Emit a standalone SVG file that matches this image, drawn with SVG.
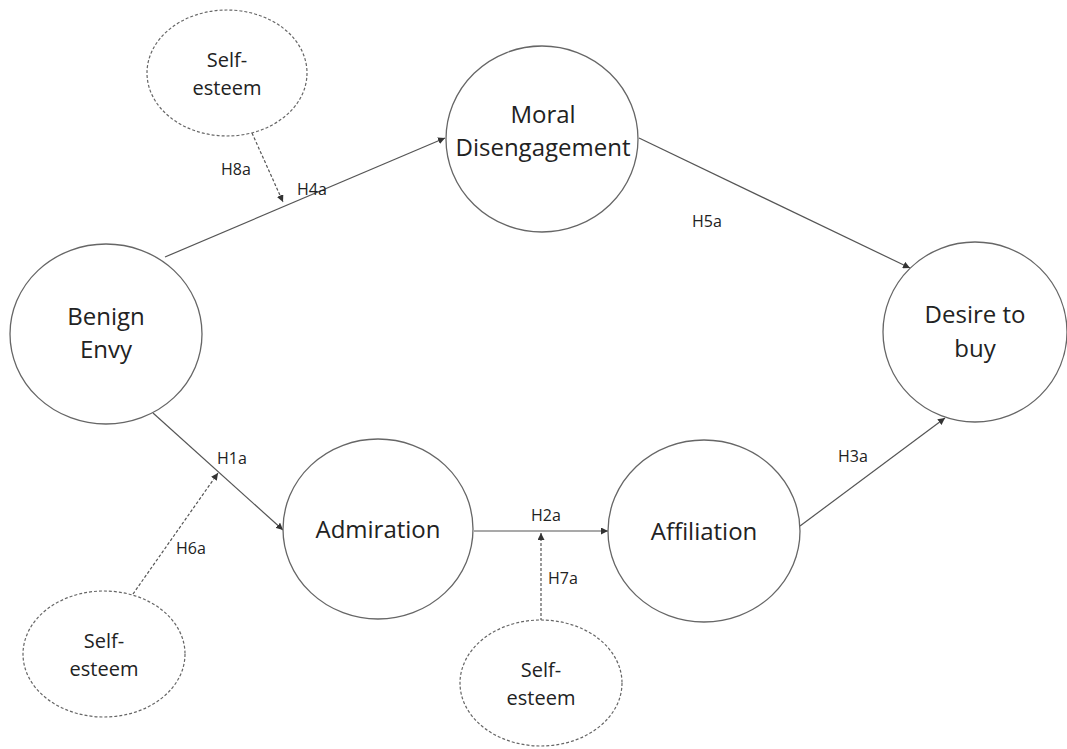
<svg xmlns="http://www.w3.org/2000/svg" width="1067" height="749" viewBox="0 0 1067 749">
<style>
.node{fill:#fff;stroke:#666;stroke-width:1.3}
.mod{fill:#fff;stroke:#666;stroke-width:1.2;stroke-dasharray:3,2}
.t{font-family:"Open Sans","Liberation Sans",sans-serif;fill:#222;text-anchor:middle}
.big{font-size:24px}
.sm{font-size:20px}
.lab{font-family:"Open Sans","Liberation Sans",sans-serif;font-size:16px;fill:#222}
.c{stroke:#555;stroke-width:1.2;fill:none}
.d{stroke:#555;stroke-width:1.2;fill:none;stroke-dasharray:3,2}
</style>
<defs>
<marker id="ah" viewBox="0 0 10 10" refX="10" refY="5" markerWidth="7" markerHeight="7" markerUnits="userSpaceOnUse" orient="auto">
<path d="M0,0 L10,5 L0,10 z" fill="#333"/>
</marker>
</defs>
<rect width="1067" height="749" fill="#fff"/>
<g id="connectors">
<line class="c" x1="165" y1="257" x2="445" y2="138" marker-end="url(#ah)"/>
<line class="d" x1="252" y1="133" x2="283" y2="202" marker-end="url(#ah)"/>
<line class="c" x1="639" y1="138" x2="910" y2="268" marker-end="url(#ah)"/>
<line class="c" x1="800" y1="526" x2="945" y2="418" marker-end="url(#ah)"/>
<line class="c" x1="153" y1="413" x2="283" y2="530" marker-end="url(#ah)"/>
<line class="d" x1="133" y1="594" x2="218" y2="473" marker-end="url(#ah)"/>
<line class="c" x1="474" y1="531" x2="608" y2="531" marker-end="url(#ah)"/>
<line class="d" x1="541" y1="621" x2="541" y2="533" marker-end="url(#ah)"/>
<text class="lab" x="221" y="175">H8a</text>
<text class="lab" x="297" y="195">H4a</text>
<text class="lab" x="692" y="227">H5a</text>
<text class="lab" x="838" y="462">H3a</text>
<text class="lab" x="217" y="464">H1a</text>
<text class="lab" x="176" y="554">H6a</text>
<text class="lab" x="531" y="521">H2a</text>
<text class="lab" x="548" y="584">H7a</text>
</g>
<g id="moral">
<ellipse class="node" cx="542" cy="139" rx="96" ry="93"/>
<text class="t big" x="543" y="123">Moral</text>
<text class="t big" x="543" y="156">Disengagement</text>
</g>
<g id="benign">
<ellipse class="node" cx="106" cy="334" rx="96" ry="90"/>
<text class="t big" x="106" y="325">Benign</text>
<text class="t big" x="106" y="358">Envy</text>
</g>
<g id="admiration">
<ellipse class="node" cx="378" cy="529" rx="95" ry="90"/>
<text class="t big" x="378" y="538">Admiration</text>
</g>
<g id="affiliation">
<ellipse class="node" cx="704" cy="531" rx="96" ry="91"/>
<text class="t big" x="704" y="540">Affiliation</text>
</g>
<g id="desire">
<ellipse class="node" cx="975" cy="332" rx="92" ry="90"/>
<text class="t big" x="975" y="323">Desire to</text>
<text class="t big" x="975" y="357">buy</text>
</g>
<g id="se-top">
<ellipse class="mod" cx="227" cy="73" rx="80" ry="63"/>
<text class="t sm" x="227" y="67">Self-</text>
<text class="t sm" x="227" y="95">esteem</text>
</g>
<g id="se-left">
<ellipse class="mod" cx="104" cy="654" rx="81" ry="63"/>
<text class="t sm" x="104" y="648">Self-</text>
<text class="t sm" x="104" y="676">esteem</text>
</g>
<g id="se-bottom">
<ellipse class="mod" cx="541" cy="683" rx="81" ry="63"/>
<text class="t sm" x="541" y="677">Self-</text>
<text class="t sm" x="541" y="705">esteem</text>
</g>
</svg>
